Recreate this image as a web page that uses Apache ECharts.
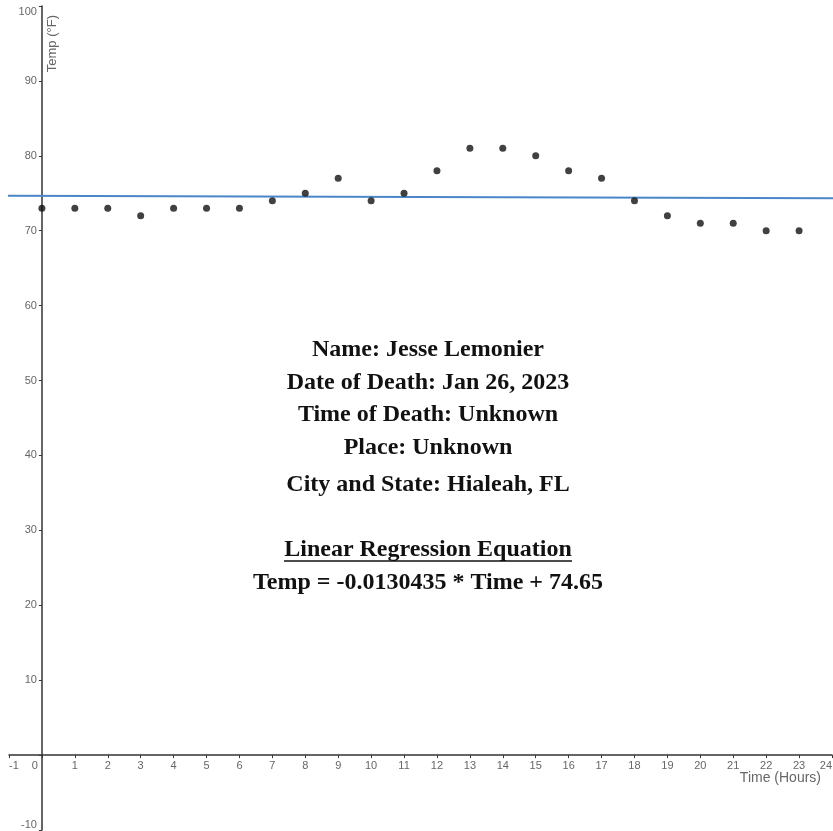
<!DOCTYPE html>
<html>
<head>
<meta charset="utf-8">
<script src="https://cdn.jsdelivr.net/npm/echarts@6/dist/echarts.min.js"></script>
<style>
  html, body { margin: 0; padding: 0; background: #fff; }
  #chart { width: 833px; height: 831px; }
</style>
</head>
<body>
<div id="chart"></div>
<script>
// hourly readings
const hours = [0, 1, 2, 3, 4, 5, 6, 7, 8, 9, 10, 11, 12, 13, 14, 15, 16, 17, 18, 19, 20, 21, 22, 23]
const temps = [73, 73, 73, 72, 73, 73, 73, 74, 75, 77, 74, 75, 78, 81, 81, 80, 78, 77, 74, 72, 71, 71, 70, 70]

// regression from the caption
const slope = -0.0130435
const intercept = 74.65
const lineX = [-1.3, 24.3]

const infoLines = [
  'Name: Jesse Lemonier',
  'Date of Death: Jan 26, 2023',
  'Time of Death: Unknown',
  'Place: Unknown',
  'City and State: Hialeah, FL'
]
const eqTitle = 'Linear Regression Equation'
const eqText = 'Temp = -0.0130435 * Time + 74.65'

const chart = echarts.init(document.getElementById('chart'))

const labelColor = '#666'
const axisColor = '#333'
const sans = 'Liberation Sans, Arial, sans-serif'
const serif = '"Liberation Serif", "DejaVu Serif", serif'

const W = 833, H = 831
const grid = { left: 9, right: 1, top: 6, bottom: 1 }
const xMin = -1, xMax = 24, yMin = -10, yMax = 100
// put the axes through zero (offset from the grid edges)
const xAxisOffset = -(H - grid.top - grid.bottom) * (0 - yMin) / (yMax - yMin)
const yAxisOffset = -(W - grid.left - grid.right) * (0 - xMin) / (xMax - xMin)

const textFont = 'bold 24px ' + serif
const textCx = 428
const lineCenters = [350, 383, 415, 448, 485]

const graphics = infoLines.map((t, i) => ({
  type: 'text',
  style: { text: t, font: textFont, fill: '#111', x: textCx, y: lineCenters[i], align: 'center', verticalAlign: 'middle' }
}))
graphics.push({
  type: 'text',
  style: { text: eqTitle, font: textFont, fill: '#111', x: textCx, y: 550, align: 'center', verticalAlign: 'middle' }
})
graphics.push({
  type: 'line',
  shape: { x1: 284, y1: 561, x2: 572, y2: 561 },
  style: { stroke: '#111', lineWidth: 1.5 }
})
graphics.push({
  type: 'text',
  style: { text: eqText, font: textFont, fill: '#111', x: textCx, y: 583, align: 'center', verticalAlign: 'middle' }
})

const option = {
  backgroundColor: '#fff',
  animation: false,
  grid: Object.assign({ containLabel: false, outerBoundsMode: 'none' }, grid),
  xAxis: {
    type: 'value',
    min: xMin,
    max: xMax,
    interval: 1,
    offset: xAxisOffset,
    name: 'Time (Hours)',
    nameLocation: 'end',
    nameGap: 0,
    nameMoveOverlap: false,
    nameTextStyle: {
      color: labelColor, fontSize: 14, fontFamily: sans,
      align: 'right', verticalAlign: 'top', padding: [16, 11, 0, 0]
    },
    splitLine: { show: false },
    axisLine: { onZero: false, lineStyle: { color: axisColor, width: 1.5 } },
    axisTick: { show: true, length: 3, lineStyle: { color: axisColor } },
    axisLabel: {
      color: labelColor, fontSize: 11, fontFamily: sans, margin: 5,
      showMinLabel: true, showMaxLabel: true,
      alignMinLabel: 'left', alignMaxLabel: 'right',
      formatter: v => v === 0 ? '{z|0}' : String(v),
      rich: { z: { color: labelColor, fontSize: 11, fontFamily: sans, padding: [0, 14, 0, 0] } }
    }
  },
  yAxis: {
    type: 'value',
    min: yMin,
    max: yMax,
    interval: 10,
    offset: yAxisOffset,
    name: 'Temp (°F)',
    nameLocation: 'end',
    nameRotate: 90,
    nameGap: 0,
    nameMoveOverlap: false,
    nameTextStyle: {
      color: labelColor, fontSize: 13, fontFamily: sans,
      align: 'right', verticalAlign: 'top', padding: [4, 9, 0, 0]
    },
    splitLine: { show: false },
    axisLine: { onZero: false, lineStyle: { color: axisColor, width: 1.5 } },
    axisTick: { show: true, length: 3, lineStyle: { color: axisColor } },
    axisLabel: {
      color: labelColor, fontSize: 11, fontFamily: sans, margin: 5,
      showMinLabel: true, showMaxLabel: true,
      verticalAlignMinLabel: 'bottom', verticalAlignMaxLabel: 'top',
      formatter: v => v === 0 ? '' : String(v)
    }
  },
  series: [
    {
      type: 'line',
      data: lineX.map(x => [x, slope * x + intercept]),
      symbol: 'none',
      clip: false,
      lineStyle: { color: '#4a86c8', width: 2 },
      z: 2
    },
    {
      type: 'scatter',
      data: hours.map((h, i) => [h, temps[i]]),
      symbolSize: 7,
      itemStyle: { color: '#111' },
      z: 3
    }
  ],
  graphic: graphics
}

chart.setOption(option)
</script>
</body>
</html>
